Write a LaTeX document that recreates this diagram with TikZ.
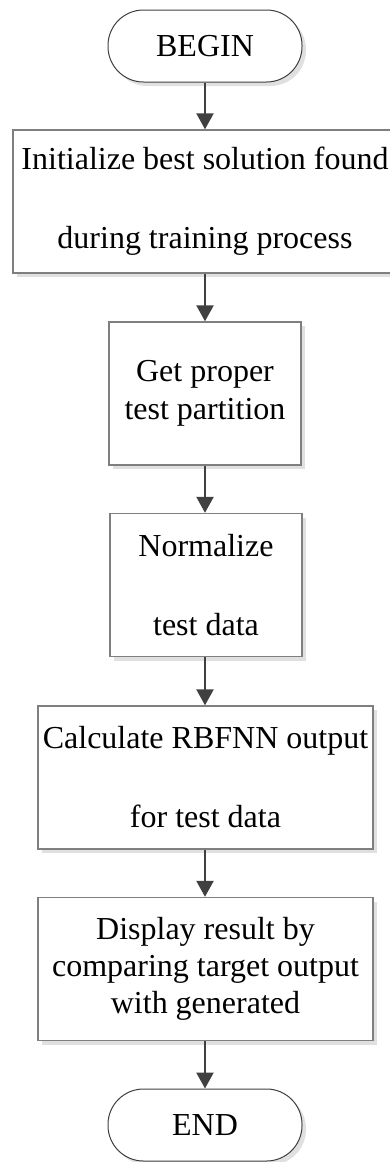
\documentclass[tikz,border=0pt]{standalone}
\usepackage{fontspec}
\setmainfont{Liberation Serif}
\usetikzlibrary{arrows.meta,shadows}

\definecolor{framegray}{HTML}{7F7F7F}
\definecolor{termgray}{HTML}{404040}
\definecolor{arrowgray}{HTML}{404040}

\tikzset{
  chartfont/.style={font=\fontsize{32}{37}\selectfont},
  boxshadow/.style={drop shadow={shadow xshift=4pt,shadow yshift=-4pt,fill=black!20,opacity=0.6}},
  terminal/.style={chartfont, draw=termgray, line width=1pt, fill=white,
    rounded corners=35.5pt, minimum width=194pt, minimum height=72pt,
    inner sep=0pt, boxshadow},
  process/.style={chartfont, draw=framegray, line width=1.4pt, fill=white,
    align=center, minimum height=143pt, inner sep=0pt, boxshadow},
  flow/.style={draw=arrowgray, line width=2.4pt,
    -{Triangle[width=17pt,length=16pt]}}
}

\begin{document}
\begin{tikzpicture}[x=1pt,y=-1pt]
  \useasboundingbox (0,0) rectangle (389,1162);

  \node[terminal] (begin) at (205,46) {BEGIN};
  \node[process, minimum width=384pt] (init) at (205,201.5)
    {Initialize best solution found\\[42pt]during training process};
  \node[process, minimum width=192pt] (part) at (205,393.5)
    {Get proper\\[1pt]test partition};
  \node[process, minimum width=192pt] (norm) at (206,585)
    {Normalize\\[42pt]test data};
  \node[process, minimum width=335pt] (calc) at (205.5,777.5)
    {Calculate RBFNN output\\[42pt]for test data};
  \node[process, minimum width=335pt] (disp) at (205.5,969)
    {Display result by\\comparing target output\\with generated};
  \node[terminal] (end) at (205,1125) {END};

  \draw[flow] (begin.south) -- (init.north -| begin.south);
  \draw[flow] (init.south -| begin.south) -- (part.north -| begin.south);
  \draw[flow] (part.south -| begin.south) -- (norm.north -| begin.south);
  \draw[flow] (norm.south -| begin.south) -- (calc.north -| begin.south);
  \draw[flow] (calc.south -| begin.south) -- (disp.north -| begin.south);
  \draw[flow] (disp.south -| begin.south) -- (end.north);
\end{tikzpicture}
\end{document}
